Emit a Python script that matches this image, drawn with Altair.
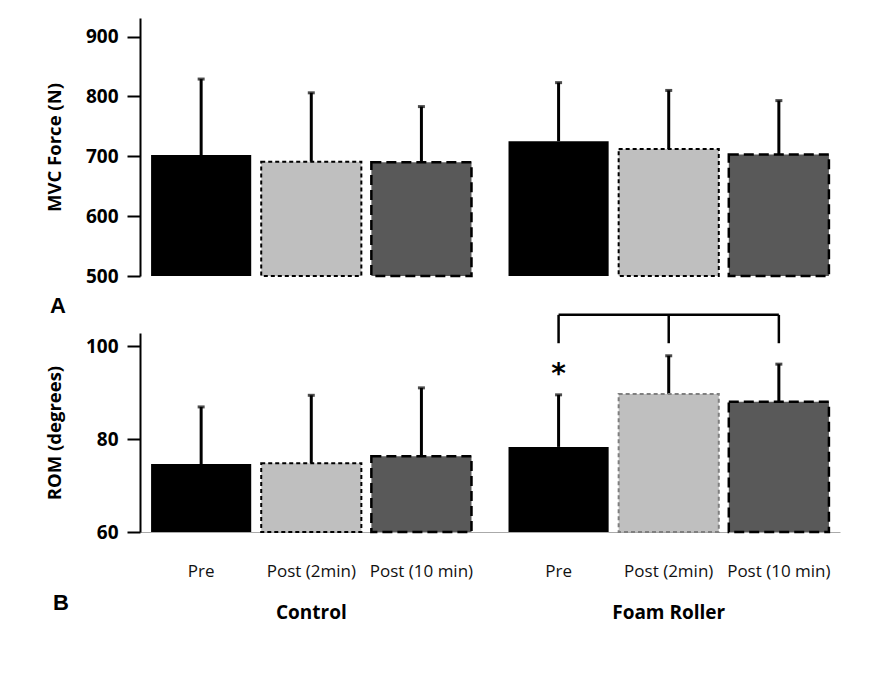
import altair as alt
import pandas as pd

group_order = ["Control", "Foam Roller"]
time_order = ["Pre", "Post (2min)", "Post (10 min)"]

groups = ["Control", "Control", "Control", "Foam Roller", "Foam Roller", "Foam Roller"]
times = ["Pre", "Post (2min)", "Post (10 min)", "Pre", "Post (2min)", "Post (10 min)"]
mvc_mean = [702, 691, 690, 725, 712, 703]
mvc_upper = [829, 806, 783, 823, 810, 793]
rom_mean = [74.6, 74.8, 76.3, 78.3, 89.7, 88.0]
rom_upper = [86.9, 89.4, 91.0, 89.5, 97.9, 96.1]
sig = ["", "", "", "*", "", ""]

bracket_group = ["Foam Roller", "Foam Roller", "Foam Roller"]
bracket_time = ["Pre", "Post (2min)", "Post (10 min)"]
bracket_top = [106.7, 106.7, 106.7]
bracket_bottom = [100.6, 100.6, 100.6]
bracket_idx = [0, 1, 2]

df = pd.DataFrame({
    "group": groups, "time": times,
    "mvc": mvc_mean, "mvc_up": mvc_upper,
    "rom": rom_mean, "rom_up": rom_upper, "sig": sig,
})
bdf = pd.DataFrame({"group": bracket_group, "time": bracket_time,
                    "top": bracket_top, "bottom": bracket_bottom, "idx": bracket_idx})

FONT = "Open Sans"
W = 700
H1 = 258
H2 = 199

xscale = alt.Scale(domain=group_order, paddingInner=0.1036, paddingOuter=0.031)
offscale = alt.Scale(domain=time_order, paddingInner=0.0909, paddingOuter=0)


def X(axis=None):
    return alt.X("group:N", scale=xscale, sort=group_order, axis=axis)


XO = alt.XOffset("time:N", scale=offscale, sort=time_order)


def yaxis(title, values):
    return alt.Axis(title=title, values=values, grid=False, domainColor="black", domainWidth=2,
                    tickColor="black", tickWidth=2, tickSize=13, labelFont=FONT, labelFontSize=19,
                    labelFontWeight="bold", labelColor="black", labelPadding=9,
                    titleFont=FONT, titleFontSize=18.5, titleFontWeight="bold", titleColor="black",
                    titlePadding=21)


def panel(field, upfield, domain, title, values, xaxis, foam_grey):
    base = alt.Chart(df)
    y = alt.Y(f"{field}:Q", scale=alt.Scale(domain=domain, nice=False, zero=False),
              axis=yaxis(title, values))
    y2 = alt.Y2(datum=domain[0])
    pre = base.transform_filter(alt.datum.time == "Pre").mark_bar(
        color="black", strokeWidth=0).encode(x=X(xaxis), xOffset=XO, y=y, y2=y2)
    if foam_grey:
        stroke2 = alt.condition(alt.datum.group == "Foam Roller", alt.value("#7f7f7f"), alt.value("black"))
    else:
        stroke2 = alt.value("black")
    p2 = base.transform_filter(alt.datum.time == "Post (2min)").mark_bar(
        fill="#bfbfbf", strokeWidth=2, strokeDash=[4, 3]).encode(
        x=X(xaxis), xOffset=XO, y=y, y2=y2, stroke=stroke2)
    p10 = base.transform_filter(alt.datum.time == "Post (10 min)").mark_bar(
        fill="#595959", stroke="black", strokeWidth=2.5, strokeDash=[10, 5]).encode(
        x=X(xaxis), xOffset=XO, y=y, y2=y2)
    err = base.mark_rule(color="black", strokeWidth=3).encode(
        x=X(xaxis), xOffset=XO, y=f"{field}:Q", y2=f"{upfield}:Q")
    cap = base.mark_tick(color="black", size=7, thickness=3).encode(
        x=X(xaxis), xOffset=XO, y=f"{upfield}:Q")
    return [err, pre, p2, p10, cap]


top_layers = panel("mvc", "mvc_up", [500, 931], "MVC Force (N)", [500, 600, 700, 800, 900],
                   None, False)
top = alt.layer(*top_layers).properties(width=W, height=H1)

bottom_xaxis = alt.Axis(title=None, labelFont=FONT, labelFontSize=19, labelFontWeight="bold",
                        labelColor="black", ticks=False, domainColor="#aaaaaa", domainWidth=1,
                        labelPadding=71, labelAngle=0)
bot_layers = panel("rom", "rom_up", [60, 102.8], "ROM (degrees)", [60, 80, 100],
                   bottom_xaxis, True)

star = alt.Chart(df).transform_filter(alt.datum.sig != "").mark_text(
    font="DejaVu Sans", fontSize=28, fontWeight="bold", color="black", dy=-20, baseline="middle").encode(
    x=X(bottom_xaxis), xOffset=XO, y="rom_up:Q", text="sig:N")

bline = alt.Chart(bdf).mark_line(color="black", strokeWidth=2.5).encode(
    x=X(bottom_xaxis), xOffset=XO, y="top:Q", order="idx:Q")
bticks = alt.Chart(bdf).mark_rule(color="black", strokeWidth=2.5).encode(
    x=X(bottom_xaxis), xOffset=XO, y="top:Q", y2="bottom:Q")

tlabels = alt.Chart(df).mark_text(font=FONT, fontSize=17, color="#111111", baseline="middle").encode(
    x=X(bottom_xaxis), xOffset=XO, y=alt.value(H2 + 40), text="time:N")

lab_a = alt.Chart(pd.DataFrame({"label": ["A"]})).mark_text(
    font="Liberation Sans", fontSize=22, fontWeight="bold", color="black", align="left",
    baseline="alphabetic").encode(x=alt.value(-90), y=alt.value(-20), text="label:N")
lab_b = alt.Chart(pd.DataFrame({"label": ["B"]})).mark_text(
    font="Liberation Sans", fontSize=22, fontWeight="bold", color="black", align="left",
    baseline="alphabetic").encode(x=alt.value(-87), y=alt.value(277), text="label:N")

bottom = alt.layer(*bot_layers, star, bline, bticks, tlabels, lab_a, lab_b).properties(width=W, height=H2)

chart = alt.vconcat(top, bottom, spacing=57, bounds="flush").properties(
    padding={"left": 37, "top": 10, "right": 10, "bottom": 10}, background="white"
).configure_view(stroke=None)

chart.save("out.html", embed_options={"renderer": "svg", "actions": False})
